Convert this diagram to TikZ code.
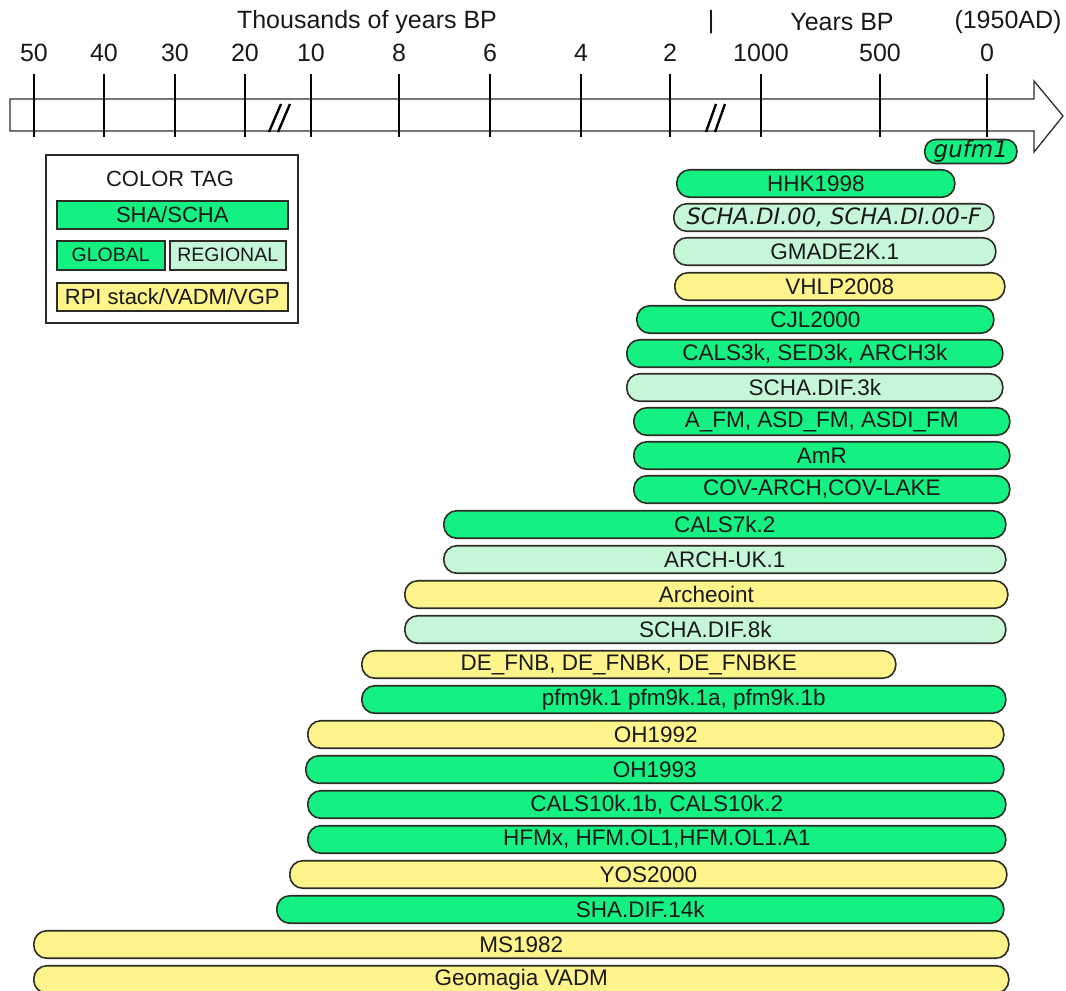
\documentclass[tikz,border=0pt]{standalone}
\usepackage{fontspec}
\setmainfont{Liberation Sans}
\newfontfamily\djv{DejaVu Sans}
\usetikzlibrary{shapes}
\definecolor{shagreen}{RGB}{20,240,130}
\definecolor{reglight}{RGB}{198,246,216}
\definecolor{rpiyellow}{RGB}{255,244,140}
\definecolor{edge}{RGB}{45,45,38}
\tikzset{
	model/.style = {rectangle, rounded corners=13pt, draw=edge, line width=1.6pt,
		minimum height=27.5pt, inner sep=0pt, anchor=west, text=black!90,
		font=\fontsize{22.5}{24}\selectfont},% model bar
	mod_g/.style = {model, fill=shagreen},% global
	mod_r/.style = {model, fill=reglight},% regional
	mod_y/.style = {model, fill=rpiyellow},% RPI stack/VADM/VGP
	tag/.style = {rectangle, draw=edge, line width=1.5pt, inner sep=0pt,
		anchor=north west, text=black!90},% legend entry
	axlabel/.style = {font=\fontsize{25}{28}\selectfont, text=black!90}
}
\begin{document}
\begin{tikzpicture}[x=1pt, y=-1pt]
\useasboundingbox (0,0) rectangle (1066,991);
% time axis
\draw[draw=edge, line width=1.3pt, fill=white] (10,99) -- (1034,99) -- (1034,81)
	-- (1063,116) -- (1034,152) -- (1034,131) -- (10,131) -- cycle;
\foreach \x/\t in {34/50, 104/40, 175/30, 245/20, 311/10, 399/8, 490/6,
		581/4, 670/2, 761/1000, 880/500, 987/0}{
	\draw[line width=2pt] (\x,74) -- (\x,137);
	\node[axlabel] (n\x) at (\x,53) {\t};
}
\draw[line width=2.4pt] (269,132) -- (281,104) (278,132) -- (290,104);
\draw[line width=2.4pt] (706,132) -- (716,104) (715,132) -- (725,104);
\node[axlabel] (kyr) at (367,22) {Thousands of years BP};
\node[axlabel] (sep) at (711,22) {|};
\node[axlabel] (yr) at (842,22) {Years BP};
\node[axlabel] (ad) at (1008,22) {(1950AD)};
% color tag
\draw[draw=edge, line width=1.8pt] (46,155) rectangle (298,323);
\node[font=\fontsize{22}{24}\selectfont, text=black!90] (ctag) at (170,179) {COLOR TAG};
\node[tag, fill=shagreen, minimum width=231pt, minimum height=28pt,
	font=\fontsize{22}{24}\selectfont] (tsha) at (56,200) {SHA/SCHA};
\node[tag, fill=shagreen, minimum width=108pt, minimum height=29pt,
	font=\fontsize{19.5}{22}\selectfont] (tglo) at (56,240) {GLOBAL};
\node[tag, fill=reglight, minimum width=116pt, minimum height=29pt,
	font=\fontsize{19.5}{22}\selectfont] (treg) at (169,240) {REGIONAL};
\node[tag, fill=rpiyellow, minimum width=231pt, minimum height=28pt,
	font=\fontsize{22}{24}\selectfont] (trpi) at (56,282) {RPI stack/VADM/VGP};
% models
\node[mod_g, minimum width=92pt, minimum height=24pt, rounded corners=11pt,
	font=\djv\fontsize{23}{24}\selectfont\itshape] (gufm) at (924,151.5) {gufm1};
\node[mod_g, minimum width=278pt] (hhk) at (676,183.5) {HHK1998};
\node[mod_r, minimum width=320pt, font=\djv\fontsize{22.5}{24}\selectfont\itshape]
	(schadi) at (673,217.5) {SCHA.DI.00, SCHA.DI.00-F};
\node[mod_r, minimum width=322pt] (gmade) at (673,251.5) {GMADE2K.1};
\node[mod_y, minimum width=330pt] (vhlp) at (674,286.5) {VHLP2008};
\node[mod_g, minimum width=357pt] (cjl) at (636,319.5) {CJL2000};
\node[mod_g, minimum width=376pt] (cals3k) at (626,353.5) {CALS3k, SED3k, ARCH3k};
\node[mod_r, minimum width=376pt] (schadif3) at (626,387.5) {SCHA.DIF.3k};
\node[mod_g, minimum width=376pt] (afm) at (633,421.5) {A\_FM, ASD\_FM, ASDI\_FM};
\node[mod_g, minimum width=376pt] (amr) at (633,455.5) {AmR};
\node[mod_g, minimum width=376pt] (cov) at (633,489.5) {COV-ARCH,COV-LAKE};
\node[mod_g, minimum width=562pt] (cals7k) at (443,524.5) {CALS7k.2};
\node[mod_r, minimum width=562pt] (archuk) at (443,559.5) {ARCH-UK.1};
\node[mod_y, minimum width=603pt] (archeo) at (404,594.5) {Archeoint};
\node[mod_r, minimum width=601pt] (schadif8) at (404,629.5) {SCHA.DIF.8k};
\node[mod_y, minimum width=534pt] (defnb) at (361,664.5) {DE\_FNB, DE\_FNBK, DE\_FNBKE};
\node[mod_g, minimum width=644pt] (pfm) at (361,699.5) {pfm9k.1 pfm9k.1a, pfm9k.1b};
\node[mod_y, minimum width=696pt] (oh92) at (307,734.5) {OH1992};
\node[mod_g, minimum width=698pt] (oh93) at (305,769.5) {OH1993};
\node[mod_g, minimum width=698pt] (cals10k) at (307,804.5) {CALS10k.1b, CALS10k.2};
\node[mod_g, minimum width=698pt] (hfm) at (307,839.5) {HFMx, HFM.OL1,HFM.OL1.A1};
\node[mod_y, minimum width=717pt] (yos) at (289,874.5) {YOS2000};
\node[mod_g, minimum width=727pt] (shadif) at (276,909.5) {SHA.DIF.14k};
\node[mod_y, minimum width=975pt] (ms) at (33,944.5) {MS1982};
\node[mod_y, minimum width=975pt] (geomagia) at (33,979.5) {Geomagia VADM};
\end{tikzpicture}
\end{document}
